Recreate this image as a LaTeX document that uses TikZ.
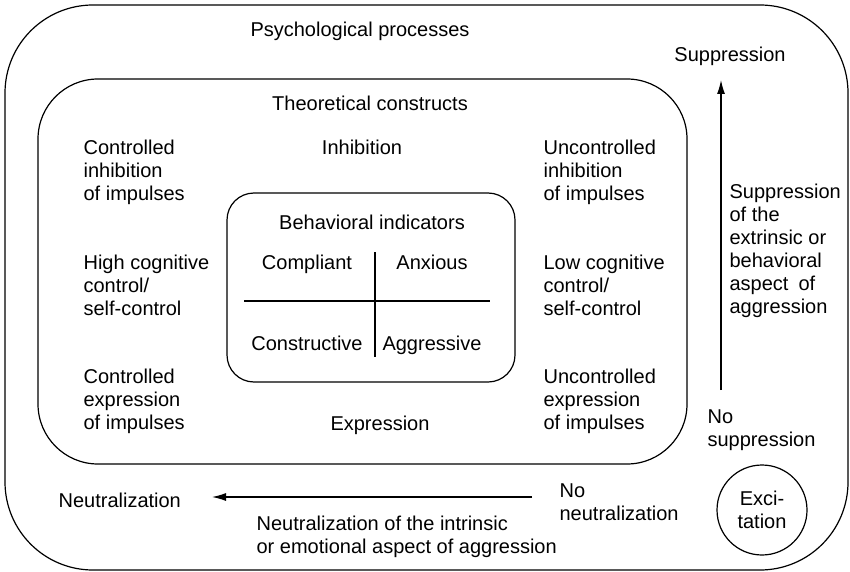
\documentclass[tikz,border=0pt]{standalone}
\usepackage{fontspec}
\setmainfont{Liberation Sans}
\usetikzlibrary{arrows.meta}

\tikzset{
  txt/.style={inner sep=0pt,font=\fontsize{20}{23}\selectfont},
  lbl/.style={txt,align=left,anchor=base west},
  ctr/.style={txt,align=center,anchor=base},
  arr/.style={-{Latex[length=14pt,width=8pt]}}
}

\begin{document}
\begin{tikzpicture}[x=1pt,y=-1pt,line width=1.2pt]
        \useasboundingbox (0,0) rectangle (850,572);
        % the three nested frames
        \draw[rounded corners=88pt] (5,5) rectangle (848,570);
        \draw[rounded corners=60pt] (38,79) rectangle (687,464);
        \draw[rounded corners=27pt] (227,193) rectangle (515,382);
        \draw (375,252) -- (375,357);
        \draw (244,301) -- (490,301);

        % (multi-line nodes sit on the baseline of their last line)
        \node[ctr] (psych) at (360,37) {Psychological processes};
        \node[ctr] (theo) at (370,111) {Theoretical constructs};
        \node[ctr] (inhib) at (362,154) {Inhibition};
        \node[ctr] (expr) at (380,430) {Expression};
        \node[lbl] (ctlinh) at (83,200) {Controlled\\inhibition\\of impulses};
        \node[lbl] (uncinh) at (543,200) {Uncontrolled\\inhibition\\of impulses};
        \node[lbl] (highcog) at (83,315) {High cognitive\\control/\\self-control};
        \node[lbl] (lowcog) at (543,315) {Low cognitive\\control/\\self-control};
        \node[lbl] (ctlexp) at (83,429) {Controlled\\expression\\of impulses};
        \node[lbl] (uncexp) at (543,429) {Uncontrolled\\expression\\of impulses};

        % behavioral indicators
        \node[ctr] (behav) at (372,229) {Behavioral indicators};
        \node[ctr] (compl) at (307,269) {Compliant};
        \node[ctr] (anx) at (432,269) {Anxious};
        \node[ctr] (constr) at (307,350) {Constructive};
        \node[ctr] (aggr) at (432,350) {Aggressive};

        % suppression axis
        \node[ctr] (supp) at (730,62) {Suppression};
        \node[lbl] (suppext) at (729,313) {Suppression\\of the\\extrinsic or\\behavioral\\aspect\enspace of\\aggression};
        \node[lbl] (nosupp) at (707,446) {No\\suppression};
        \coordinate (suppfrom) at (721,390);
        \coordinate (suppto) at (721,80);
        \draw[arr] (suppfrom) -- (suppto);

        % neutralization axis
        \node[lbl] (neut) at (58,507) {Neutralization};
        \node[lbl] (noneut) at (559,520) {No\\neutralization};
        \node[lbl] (neutint) at (256,553) {Neutralization of the intrinsic\\or emotional aspect of aggression};
        \coordinate (neutfrom) at (532,497);
        \coordinate (neutto) at (212,497);
        \draw[arr] (neutfrom) -- (neutto);

        \node[draw,circle,minimum size=90pt,txt,align=center] (excit) at (762,510) {Exci-\\tation};
\end{tikzpicture}
\end{document}
